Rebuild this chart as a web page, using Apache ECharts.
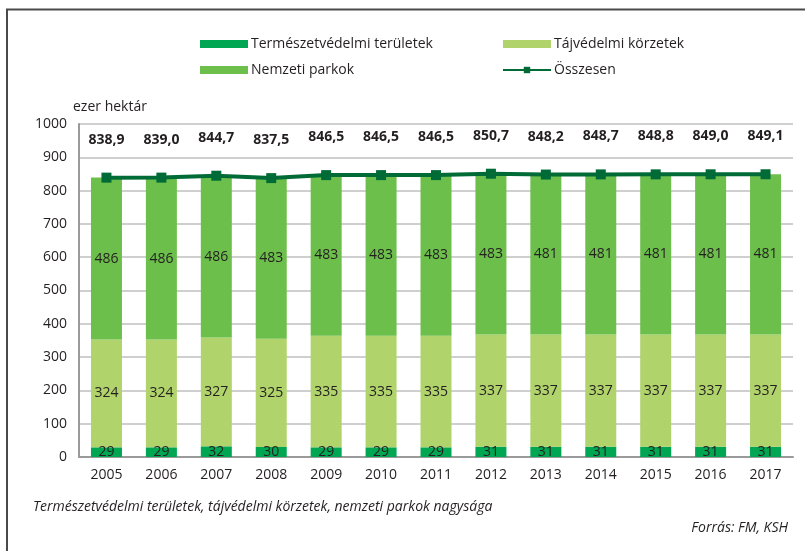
<!DOCTYPE html>
<html>
<head>
<meta charset="utf-8">
<script src="https://cdn.jsdelivr.net/npm/echarts@6/dist/echarts.min.js"></script>
<style>html,body{margin:0;padding:0;background:#fff}#c{width:805px;height:551px}</style>
</head>
<body>
<div id="c"></div>
<script>
const years = ['2005','2006','2007','2008','2009','2010','2011','2012','2013','2014','2015','2016','2017'];
const termeszetvedelmi = [29,29,32,30,29,29,29,31,31,31,31,31,31];
const tajvedelmi = [324,324,327,325,335,335,335,337,337,337,337,337,337];
const nemzeti = [486,486,486,483,483,483,483,483,481,481,481,481,481];
const osszesen = [838.9,839.0,844.7,837.5,846.5,846.5,846.5,850.7,848.2,848.7,848.8,849.0,849.1];
const yTicks = [0,100,200,300,400,500,600,700,800,900,1000];

const FONT = '"Open Sans", "Noto Sans", sans-serif';
const chart = echarts.init(document.getElementById('c'), null, {renderer:'canvas'});
const segLabel = {show:true, position:'inside', color:'#231f20', fontSize:14, fontFamily:FONT};
chart.setOption({
  animation:false,
  textStyle:{fontFamily:FONT},
  graphic:[
    {type:'polyline', shape:{points:[[7,551],[7,9.5],[805,9.5]]}, style:{stroke:'#4a4a4a', lineWidth:2, fill:null}},
    {type:'text', left:33, top:500, style:{text:'Természetvédelmi területek, tájvédelmi körzetek, nemzeti parkok nagysága', font:'italic 14px '+FONT, fill:'#231f20'}},
    {type:'text', right:17, top:521, style:{text:'Forrás: FM, KSH', font:'italic 14px '+FONT, fill:'#231f20', textAlign:'right'}}
  ],
  legend:[
    {orient:'vertical', left:195, top:32, itemWidth:48, itemHeight:8, itemGap:12,
     textStyle:{fontSize:14, color:'#231f20', fontFamily:FONT, padding:[0,0,0,-2]},
     data:[{name:'Természetvédelmi területek', icon:'rect'},{name:'Nemzeti parkok', icon:'rect'}]},
    {orient:'vertical', left:497, top:32, itemWidth:48, itemHeight:8, itemGap:12,
     textStyle:{fontSize:14, color:'#231f20', fontFamily:FONT, padding:[0,0,0,-2]},
     data:[{name:'Tájvédelmi körzetek', icon:'rect'},{name:'Összesen'}]}
  ],
  grid:{left:79, right:12, top:124, bottom:94},
  xAxis:{type:'category', data:years,
    axisLine:{lineStyle:{color:'#9a9a9a', width:2}}, axisTick:{show:false},
    axisLabel:{fontSize:14, color:'#231f20', margin:11, fontFamily:FONT}},
  yAxis:{type:'value', min:0, max:1000, interval:100,
    name:'ezer hektár', nameLocation:'end', nameGap:10,
    nameTextStyle:{fontSize:14, color:'#231f20', align:'left', padding:[0,0,0,-6], fontFamily:FONT},
    axisLine:{show:true, lineStyle:{color:'#9a9a9a', width:2}},
    axisTick:{show:false},
    splitLine:{lineStyle:{color:'#bfbfbf', width:1.5}},
    axisLabel:{fontSize:14, color:'#231f20', margin:12, fontFamily:FONT,
      formatter:v=>yTicks.includes(v)?String(v):''}},
  series:[
    {name:'Természetvédelmi területek', type:'bar', stack:'a', data:termeszetvedelmi, barWidth:31,
     itemStyle:{color:'#00a651'}, label:segLabel},
    {name:'Tájvédelmi körzetek', type:'bar', stack:'a', data:tajvedelmi,
     itemStyle:{color:'#b0d36b'}, label:segLabel},
    {name:'Nemzeti parkok', type:'bar', stack:'a', data:nemzeti,
     itemStyle:{color:'#6dbf4b'}, label:segLabel},
    {name:'Összesen', type:'line', data:osszesen, symbol:'rect', symbolSize:10,
     lineStyle:{color:'#006b36', width:4}, itemStyle:{color:'#006b36'},
     label:{show:true, position:'top', distance:26, fontSize:14, fontWeight:'bold', color:'#231f20', fontFamily:FONT,
       formatter:p=>p.value.toFixed(1).replace('.',',')}}
  ]
});
</script>
</body>
</html>
